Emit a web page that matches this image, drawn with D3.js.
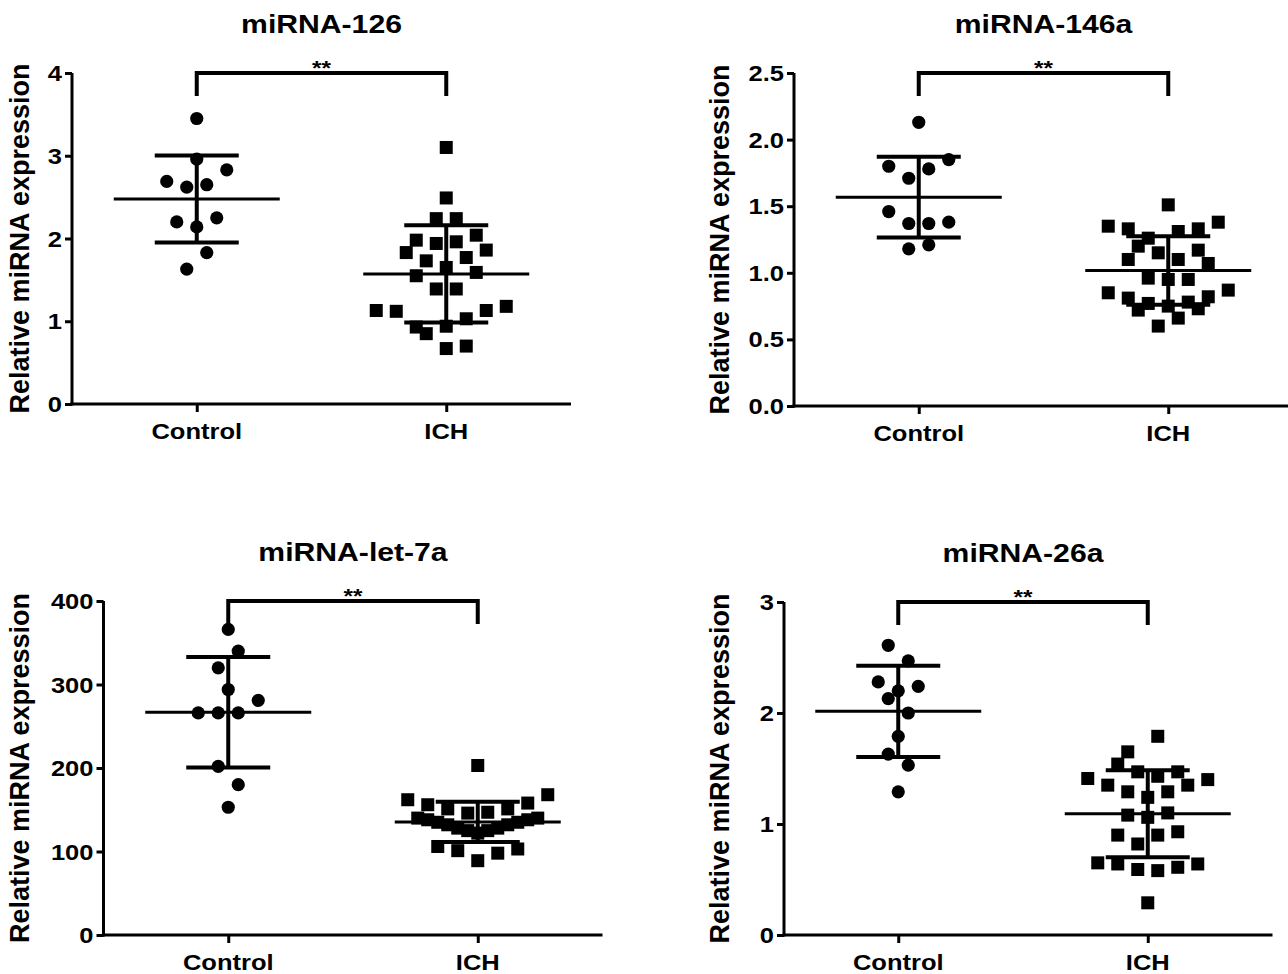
<!DOCTYPE html>
<html><head><meta charset="utf-8">
<script src="https://cdn.jsdelivr.net/npm/d3@7"></script>
<style>body{margin:0;background:#fff} svg{display:block} text{font-family:"Liberation Sans",Arial,sans-serif;font-weight:bold;fill:#000}</style>
</head><body>
<svg id="c" width="1288" height="974"></svg>
<script>
// ---------- data ----------
const categories = ["Control", "ICH"];
const titles = ["miRNA-126", "miRNA-146a", "miRNA-let-7a", "miRNA-26a"];
const yLabel = "Relative miRNA expression";
const yMaxes = [4, 2.5, 400, 3];
const yTickSteps = [1, 0.5, 100, 1];
const yTickFormats = ["d", ".1f", "d", "d"];
const sigLabel = "**";

// miRNA-126
const ctrl126 = [3.45, 2.96, 2.83, 2.69, 2.62, 2.65, 2.20, 2.14, 2.25, 1.83, 1.63];
const ctrl126Slots = [0, 0, 3, -3, -1, 1, -2, 0, 2, 1, -1];
const ich126 = [3.10, 2.49, 2.24, 2.24, 2.04, 1.98, 1.94, 1.96, 1.83, 1.86, 1.73, 1.77, 1.65, 1.55, 1.59, 1.39, 1.39, 1.13, 1.12, 1.13, 1.18, 1.03, 0.93, 0.85, 0.94, 0.67, 0.70];
const ich126Slots = [0, 0, -1, 1, 3, -3, -1, 1, -4, 4, -2, 2, 0, -3, 3, -1, 1, -7, -5, 4, 6, 2, -3, -2, 0, 0, 2];

// miRNA-146a
const ctrl146a = [2.13, 1.80, 1.71, 1.78, 1.85, 1.46, 1.37, 1.37, 1.38, 1.18, 1.21];
const ctrl146aSlots = [0, -3, -1, 1, 3, -3, -1, 1, 3, -1, 1];
const ich146a = [1.51, 1.35, 1.33, 1.38, 1.33, 1.26, 1.31, 1.20, 1.15, 1.17, 1.10, 1.10, 1.07, 0.96, 0.95, 0.95, 0.85, 0.87, 0.81, 0.77, 0.72, 0.75, 0.78, 0.82, 0.73, 0.66, 0.60];
const ich146aSlots = [0, -6, -4, 5, 3, -2, 1, -3, -1, 3, -4, 1, 4, -2, 0, 2, -6, 6, -4, -2, -3, 0, 2, 4, 3, 1, -1];

// miRNA-let-7a
const ctrlLet7a = [366, 340, 320, 294, 281, 266, 266, 266, 202, 180, 153];
const ctrlLet7aSlots = [0, 1, -1, 0, 3, -3, -1, 1, -1, 1, 0];
const ichLet7a = [203, 162, 156, 151, 146, 147, 151, 158, 168, 140, 138, 135, 132, 128, 125, 122, 125, 128, 132, 135, 138, 140, 106, 101, 89, 98, 103];
const ichLet7aSlots = [0, -7, -5, -3, -1, 1, 3, 5, 7, -6, -5, -4, -3, -2, -1, 0, 1, 2, 3, 4, 5, 6, -4, -2, 0, 2, 4];

// miRNA-26a
const ctrl26a = [2.61, 2.47, 2.28, 2.24, 2.20, 2.13, 2.00, 1.79, 1.63, 1.53, 1.29];
const ctrl26aSlots = [-1, 1, -2, 2, 0, -1, 1, 0, -1, 1, 0];
const ich26a = [1.79, 1.65, 1.54, 1.47, 1.43, 1.47, 1.41, 1.35, 1.35, 1.40, 1.29, 1.29, 1.24, 1.08, 1.06, 1.10, 0.90, 0.90, 0.93, 0.82, 0.65, 0.64, 0.59, 0.58, 0.61, 0.64, 0.29];
const ich26aSlots = [1, -2, -3, -1, 1, 3, -6, -4, 4, 6, -2, 2, 0, -2, 0, 2, -3, 1, 3, -1, -5, -3, -1, 1, 3, 5, 0];

const controlSeries = [ctrl126, ctrl146a, ctrlLet7a, ctrl26a];
const controlSlots = [ctrl126Slots, ctrl146aSlots, ctrlLet7aSlots, ctrl26aSlots];
const ichSeries = [ich126, ich146a, ichLet7a, ich26a];
const ichSlots = [ich126Slots, ich146aSlots, ichLet7aSlots, ich26aSlots];

// ---------- layout ----------
const panels = [
  {ox: 0,   left: 72,    axisX: 72,    top: 73,  bottom: 404},
  {ox: 700, left: 794,   axisX: 794,   top: 73,  bottom: 406},
  {ox: 0,   left: 103.5, axisX: 103.5, top: 601, bottom: 935},
  {ox: 700, left: 773.5, axisX: 784,   top: 602, bottom: 935}
];
const axisW = 499;
const slotPx = 10;
const SX = 1.16; // horizontal stretch of text in reference

const svg = d3.select("#c");

function hText(g, x, y, str, size, anchor) {
  return g.append("text")
    .attr("transform", `translate(${x},${y}) scale(${SX},1)`)
    .attr("text-anchor", anchor || "middle")
    .style("font-size", size + "px")
    .text(str);
}

panels.forEach((p, i) => {
  const g = svg.append("g");
  const x = d3.scalePoint().domain(categories).range([p.left, p.left + axisW]).padding(0.5);
  const y = d3.scaleLinear().domain([0, yMaxes[i]]).range([p.bottom, p.top]);
  const ticks = d3.range(0, yMaxes[i] + yTickSteps[i] / 2, yTickSteps[i]);
  const fmt = d3.format(yTickFormats[i]);

  // y axis
  const yAxis = d3.axisLeft(y).tickValues(ticks).tickSize(7).tickFormat("");
  const ya = g.append("g").attr("transform", `translate(${p.axisX},0)`).call(yAxis);
  ya.select(".domain").attr("stroke", "#000").attr("stroke-width", 3).attr("d", `M0,${p.bottom + 1.5}V${p.top}`);
  ya.selectAll(".tick line").attr("stroke", "#000").attr("stroke-width", 3);
  ticks.forEach(t => hText(g, p.axisX - 10, y(t) + 8, fmt(t), 22, "end"));

  // x axis
  const xAxis = d3.axisBottom(x).tickSize(8).tickFormat("");
  const xa = g.append("g").attr("transform", `translate(0,${p.bottom})`).call(xAxis);
  xa.select(".domain").attr("stroke", "#000").attr("stroke-width", 3).attr("d", `M${p.axisX - 1.5},0H${p.left + axisW}`);
  xa.selectAll(".tick line").attr("stroke", "#000").attr("stroke-width", 3);
  categories.forEach(c => hText(g, x(c), p.bottom + 35, c, 22, "middle"));

  // y label
  g.append("text")
    .attr("transform", `translate(${p.ox + 29},${(p.top + p.bottom) / 2}) rotate(-90)`)
    .attr("text-anchor", "middle")
    .style("font-size", "27px")
    .text(yLabel);

  // title
  hText(g, p.left + axisW / 2, p.top - 40, titles[i], 26, "middle");

  // significance bracket
  const x0 = x(categories[0]), x1 = x(categories[1]);
  g.append("path")
    .attr("d", `M${x0},${p.top + 23}V${p.top}H${x1}V${p.top + 23}`)
    .attr("fill", "none").attr("stroke", "#000").attr("stroke-width", 4).attr("stroke-linejoin", "miter");
  hText(g, (x0 + x1) / 2, p.top + 2, sigLabel, 21, "middle");

  // scatter + mean ± SD
  const groups = [
    {cat: categories[0], vals: controlSeries[i], slots: controlSlots[i], shape: "circle"},
    {cat: categories[1], vals: ichSeries[i], slots: ichSlots[i], shape: "square"}
  ];
  groups.forEach(gr => {
    const cx = x(gr.cat);
    const m = d3.mean(gr.vals), sd = d3.deviation(gr.vals);
    const pts = gr.vals.map((v, k) => ({v, s: gr.slots[k]}));
    if (gr.shape === "circle") {
      g.selectAll(null).data(pts).enter().append("circle")
        .attr("cx", d => cx + d.s * slotPx).attr("cy", d => y(d.v)).attr("r", 6.6).attr("fill", "#000");
    } else {
      g.selectAll(null).data(pts).enter().append("rect")
        .attr("x", d => cx + d.s * slotPx - 6.5).attr("y", d => y(d.v) - 6.5)
        .attr("width", 13).attr("height", 13).attr("fill", "#000");
    }
    g.append("line").attr("x1", cx).attr("x2", cx).attr("y1", y(m + sd)).attr("y2", y(m - sd))
      .attr("stroke", "#000").attr("stroke-width", 4);
    [m + sd, m - sd].forEach(v => g.append("line").attr("x1", cx - 42).attr("x2", cx + 42)
      .attr("y1", y(v)).attr("y2", y(v)).attr("stroke", "#000").attr("stroke-width", 4));
    g.append("line").attr("x1", cx - 83).attr("x2", cx + 83).attr("y1", y(m)).attr("y2", y(m))
      .attr("stroke", "#000").attr("stroke-width", 3);
  });
});
</script>
</body></html>
